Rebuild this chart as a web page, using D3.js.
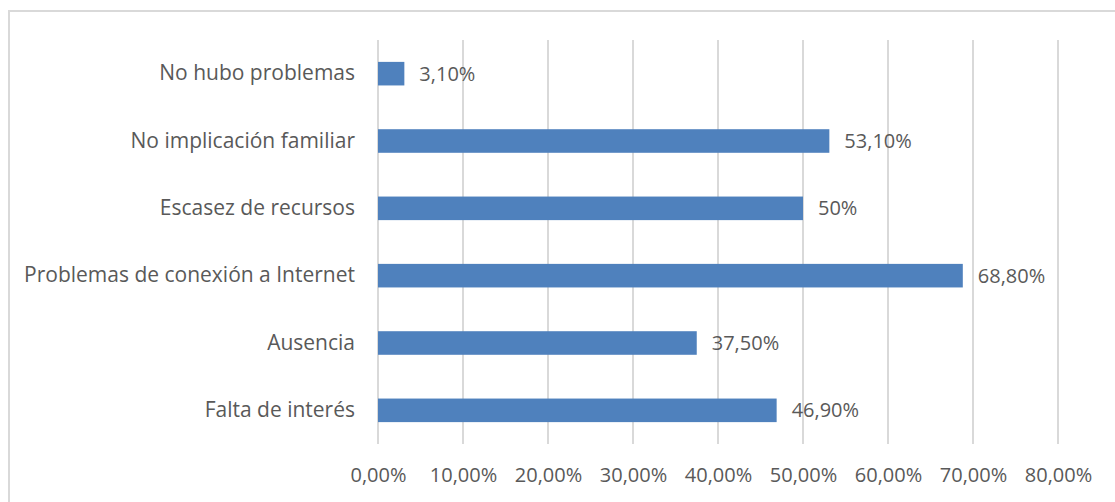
<!DOCTYPE html>
<html>
<head>
<meta charset="utf-8">
<script src="https://cdn.jsdelivr.net/npm/d3@7"></script>
<style>
  body { margin: 0; background: #fff; }
  text { font-family: "Open Sans", sans-serif; fill: #595959; }
</style>
</head>
<body>
<div id="chart"></div>
<script>
const categories = ["No hubo problemas", "No implicación familiar", "Escasez de recursos",
  "Problemas de conexión a Internet", "Ausencia", "Falta de interés"];
const values = [3.1, 53.1, 50, 68.8, 37.5, 46.9];
const valueLabels = ["3,10%", "53,10%", "50%", "68,80%", "37,50%", "46,90%"];
const tickValues = [0, 10, 20, 30, 40, 50, 60, 70, 80];

const W = 1115, H = 502;
const margin = { top: 40, right: 57, bottom: 58, left: 378 };
const width = W - margin.left - margin.right;
const height = H - margin.top - margin.bottom;

const root = d3.select("#chart").append("svg")
  .attr("width", W)
  .attr("height", H);

// outer chart border (right/bottom run off the picture)
root.append("rect")
  .attr("x", 9).attr("y", 11)
  .attr("width", W + 20).attr("height", H + 20)
  .attr("fill", "none")
  .attr("stroke", "#d9d9d9")
  .attr("stroke-width", 2);

const svg = root.append("g")
  .attr("transform", `translate(${margin.left},${margin.top})`);

const x = d3.scaleLinear().domain([0, 80]).range([0, 680]);
const y = d3.scaleBand().domain(categories).range([0, height]).paddingInner(0.65).paddingOuter(0.325);

// gridlines
svg.selectAll(".grid")
  .data(tickValues)
  .join("line")
  .attr("x1", d => x(d)).attr("x2", d => x(d))
  .attr("y1", 0).attr("y2", height)
  .attr("stroke", "#d9d9d9")
  .attr("stroke-width", 2);

// x axis labels
const xAxis = svg.append("g")
  .attr("transform", `translate(0,${height})`)
  .call(d3.axisBottom(x).tickValues(tickValues).tickSize(0).tickPadding(24)
    .tickFormat(d => d3.format(".2f")(d).replace(".", ",") + "%"));
xAxis.select(".domain").remove();
xAxis.selectAll("text")
  .style("font-size", "20px")
  .style("font-family", "'Open Sans', sans-serif")
  .attr("fill", "#595959");

// y axis labels
const yAxis = svg.append("g")
  .call(d3.axisLeft(y).tickSize(0).tickPadding(23));
yAxis.select(".domain").remove();
yAxis.selectAll("text")
  .style("font-size", "21px")
  .style("font-family", "'Open Sans', sans-serif")
  .attr("fill", "#595959");

// bars
svg.selectAll(".bar")
  .data(categories)
  .join("rect")
  .attr("x", x(0))
  .attr("y", d => y(d))
  .attr("width", (d, i) => x(values[i]) - x(0))
  .attr("height", y.bandwidth())
  .attr("fill", "#4f81bd");

// value labels
svg.selectAll(".lbl")
  .data(categories)
  .join("text")
  .attr("x", (d, i) => x(values[i]) + 15)
  .attr("y", d => y(d) + y.bandwidth() / 2)
  .attr("dy", "0.35em")
  .style("font-size", "20px")
  .text((d, i) => valueLabels[i]);
</script>
</body>
</html>
